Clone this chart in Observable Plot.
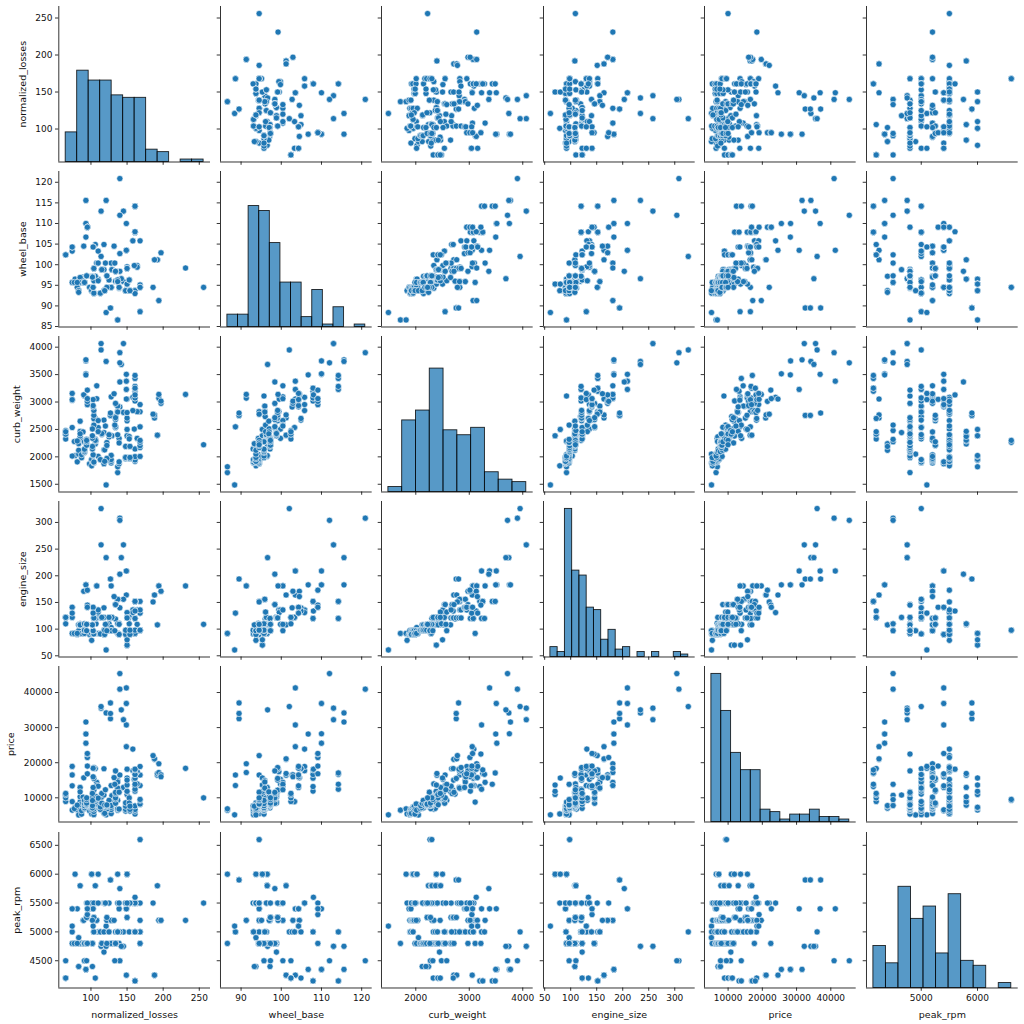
<!DOCTYPE html>
<html>
<head>
<meta charset="utf-8">
<script src="https://cdn.jsdelivr.net/npm/d3@7"></script>
<script src="https://cdn.jsdelivr.net/npm/@observablehq/plot@0.6"></script>
<style>
  body { margin: 0; background: #fff; }
  #chart { position: relative; width: 1024px; height: 1024px; background: #fff; }
  #chart svg { position: absolute; overflow: visible; max-width: none; }
</style>
</head>
<body>
<div id="chart"></div>
<script>
const variables = ["normalized_losses", "wheel_base", "curb_weight", "engine_size", "price", "peak_rpm"];

const normalized_losses = [
168,168,168,164,164,160,158,168,158,150,
192,192,188,188,149,149,149,149,121,98,
81,118,118,118,148,148,148,148,110,145,
137,137,101,101,101,110,78,106,106,85,
85,85,107,139,139,139,134,145,114,114,
104,104,104,113,113,150,150,150,150,129,
115,129,115,118,115,118,106,93,93,93,
93,121,142,140,140,140,161,161,161,161,
153,153,137,137,137,125,125,125,137,128,
128,128,122,103,128,128,122,103,168,106,
106,128,108,108,194,194,231,161,161,161,
161,161,161,161,161,161,161,161,119,119,
154,154,154,74,137,186,127,127,127,140,
104,110,150,104,150,104,150,104,83,83,
83,102,102,102,102,102,89,89,85,85,
87,87,74,77,81,91,91,91,91,91,
91,91,91,168,168,168,168,134,134,134,
134,134,134,65,65,65,65,65,197,197,
90,132,122,122,94,94,94,94,94,139,
256,110,133,120,103,74,103,74,103,74,
95,95,95,95,95];

const wheel_base = [
88.6,88.6,94.5,99.8,99.4,99.8,105.8,105.8,105.8,99.5,
101.2,101.2,101.2,101.2,103.5,103.5,103.5,110,88.4,94.5,
94.5,93.7,93.7,93.7,93.7,93.7,93.7,93.7,103.3,95.9,
86.6,86.6,93.7,93.7,93.7,96.5,96.5,96.5,96.5,96.5,
96.5,96.5,96.5,94.3,94.5,94.5,96,113,113,102,
93.1,93.1,93.1,93.1,93.1,95.3,95.3,95.3,95.3,98.8,
98.8,98.8,98.8,98.8,98.8,104.9,104.9,110,110,106.7,
115.6,115.6,96.6,120.9,112,102.7,93.7,93.7,93.7,93,
96.3,96.3,95.9,95.9,95.9,96.3,96.3,96.3,96.3,94.5,
94.5,94.5,94.5,94.5,94.5,94.5,94.5,94.5,95.1,97.2,
97.2,100.4,100.4,100.4,91.3,91.3,99.2,107.9,107.9,114.2,
114.2,107.9,107.9,114.2,114.2,107.9,107.9,108,93.7,93.7,
93.7,93.7,93.7,103.3,95.9,94.5,89.5,89.5,89.5,98.4,
96.1,96.1,99.1,99.1,99.1,99.1,99.1,99.1,93.7,93.7,
93.3,97.2,97.2,97.2,97,97,97,97,96.9,96.9,
95.7,95.7,95.7,95.7,95.7,95.7,95.7,95.7,95.7,95.7,
95.7,95.7,95.7,94.5,94.5,94.5,94.5,98.4,98.4,98.4,
98.4,98.4,98.4,102.4,102.4,102.4,102.4,102.4,102.9,102.9,
104.5,104.5,97.3,97.3,97.3,97.3,97.3,97.3,97.3,94.5,
94.5,100.4,100.4,100.4,104.3,104.3,104.3,104.3,104.3,104.3,
109.1,109.1,109.1,109.1,109.1];

const curb_weight = [
2548,2548,2823,2337,2824,2507,2844,2954,3086,3053,
2395,2395,2710,2765,3055,3230,3380,3505,1488,1874,
1909,1876,1876,2128,1967,1989,1989,2191,2535,2811,
1713,1819,1837,1940,1956,2010,2024,2236,2289,2304,
2372,2465,2293,2337,1874,1909,2734,4066,4066,3950,
1890,1900,1905,1945,1950,2380,2380,2385,2500,2385,
2410,2385,2410,2443,2425,2670,2700,3515,3750,3495,
3770,3740,3685,3900,3715,2910,1918,1944,2004,2145,
2370,2328,2833,2921,2926,2365,2405,2403,2403,1889,
2017,1918,1938,2024,1951,2028,1971,2037,2008,2324,
2302,3095,3296,3060,3071,3139,3139,3020,3197,3230,
3430,3075,3252,3285,3485,3075,3252,3130,1918,2128,
1967,1989,2191,2535,2818,2778,2756,2756,2800,3366,
2579,2460,2658,2695,2707,2758,2808,2847,2050,2120,
2240,2145,2190,2340,2385,2510,2290,2455,2420,2650,
1985,2040,2015,2280,2290,3110,2081,2109,2275,2275,
2094,2122,2140,2169,2204,2265,2300,2540,2536,2551,
2679,2714,2975,2326,2480,2414,2414,2458,2976,3016,
3131,3151,2261,2209,2264,2212,2275,2319,2300,2254,
2221,2661,2579,2563,2912,3034,2935,3042,3045,3157,
2952,3049,3012,3217,3062];

const engine_size = [
130,130,152,109,136,136,136,136,131,131,
108,108,164,164,164,209,209,209,61,90,
90,90,90,98,90,90,90,98,122,156,
92,92,79,92,92,92,92,110,110,110,
110,110,110,111,90,90,119,258,258,326,
91,91,91,91,91,70,70,70,80,122,
122,122,122,122,122,140,134,183,183,183,
183,234,234,308,304,140,92,92,92,98,
110,122,156,156,156,122,122,110,110,97,
103,97,97,97,97,97,97,97,97,120,
120,181,181,181,181,181,181,120,152,120,
152,120,152,120,152,120,152,134,90,98,
90,90,98,122,156,151,194,194,194,203,
132,132,121,121,121,121,121,121,97,108,
108,108,108,108,108,108,108,108,108,108,
92,92,92,92,92,92,98,98,110,110,
98,98,98,98,98,98,98,146,146,146,
146,146,146,122,110,122,122,122,171,171,
171,161,97,109,97,109,109,97,109,109,
109,136,97,109,141,141,141,141,130,130,
141,141,173,145,141];

const price = [
13495,16500,16500,13950,17450,15250,17710,18920,23875,null,
16430,16925,20970,21105,24565,30760,41315,36880,5151,6295,
6575,5572,6377,7957,6229,6692,7609,8558,8921,12964,
6479,6855,5399,6529,7129,7295,7295,7895,9095,8845,
10295,12945,10345,6785,null,null,11048,32250,35550,36000,
5195,6095,6795,6695,7395,10945,11845,13645,15645,8845,
8495,10595,10245,10795,11245,18280,18344,25552,28248,28176,
31600,34184,35056,40960,45400,16503,5389,6189,6669,7689,
9959,8499,12629,14869,14489,6989,8189,9279,9279,5499,
7099,6649,6849,7349,7299,7799,7499,7999,8249,8949,
9549,13499,14399,13499,17199,19699,18399,11900,13200,12440,
13860,15580,16900,16695,17075,16630,17950,18150,5572,7957,
6229,6692,7609,8921,12764,22018,32528,34028,37028,null,
9295,9895,11850,12170,15040,15510,18150,18620,5118,7053,
7603,7126,7775,9960,9233,11259,7463,10198,8013,11694,
5348,6338,6488,6918,7898,8778,6938,7198,7898,7788,
7738,8358,9258,8058,8238,9298,9538,8449,9639,9989,
11199,11549,17669,8948,10698,9988,10898,11248,16558,15998,
15690,15750,7775,7975,7995,8195,8495,9495,9995,11595,
9980,13295,13845,12290,12940,13415,15985,16515,18420,18950,
16845,19045,21485,22470,22625];

const peak_rpm = [
5000,5000,5000,5500,5500,5500,5500,5500,5500,5500,
5800,5800,4250,4250,4250,5400,5400,5400,5100,5400,
5400,5500,5500,5500,5500,5500,5500,5500,5000,5000,
4800,6000,5500,6000,6000,6000,6000,5800,5800,5800,
5800,5800,5500,4800,5400,5400,5000,4750,4750,5000,
5000,5000,5000,5000,5000,6000,6000,6000,6000,4800,
4800,4800,4800,4650,4800,5000,4200,4350,4350,4350,
4350,4750,4750,4500,4500,5000,5500,5500,5500,5500,
5500,5000,5000,5000,5000,5000,5000,5500,5500,5200,
4800,5200,5200,5200,5200,5200,5200,5200,5200,5200,
5200,5200,5200,5200,5200,5200,5200,5000,4150,5000,
4150,5000,4150,5000,4150,5000,4150,5600,5500,5500,
5500,5500,5500,5000,5000,5500,5900,5900,5900,5750,
null,null,5250,5250,5250,5250,5500,5500,4900,4400,
4400,4800,4400,5200,4800,4800,4800,5200,4800,4800,
4800,4800,4800,4800,4800,4800,4800,4800,4500,4500,
4800,4800,4800,4800,4800,6600,6600,4800,4800,4800,
4800,4800,4800,4200,4500,4200,4200,4200,5200,5200,
5200,5200,4800,5250,4800,5250,5250,4500,5500,5500,
5500,5500,4500,5500,5400,5400,5400,5400,5100,5100,
5400,5300,5500,4800,5400];

// tick values
const nlTicks = [100, 150, 200, 250];
const wbTicksY = [85, 90, 95, 100, 105, 110, 115, 120];
const wbTicksX = [90, 100, 110, 120];
const curbTicksY = [1500, 2000, 2500, 3000, 3500, 4000];
const curbTicksX = [2000, 3000, 4000];
const engineTicks = [50, 100, 150, 200, 250, 300];
const priceTicks = [10000, 20000, 30000, 40000];
const rpmTicksY = [4500, 5000, 5500, 6000, 6500];
const rpmTicksX = [5000, 6000];
// number of histogram bins on the diagonal
const binCounts = [12, 13, 10, 19, 14, 11];

const columns = [normalized_losses, wheel_base, curb_weight, engine_size, price, peak_rpm];
const ticksY = [nlTicks, wbTicksY, curbTicksY, engineTicks, priceTicks, rpmTicksY];
const ticksX = [nlTicks, wbTicksX, curbTicksX, engineTicks, priceTicks, rpmTicksX];

// layout
const PL = 58.3, PT = 6, PW = 151.7, PH = 155.5, DX = 161.5, DY = 165.1;
const BLUE = "#1f77b4";
const FONT = "DejaVu Sans";
const fmt = d => String(d);

function paddedDomain(arr) {
  const v = arr.filter(d => d != null);
  const [a, b] = d3.extent(v);
  const p = (b - a) * 0.05;
  return [a - p, b + p];
}
const domains = columns.map(paddedDomain);

const histBins = columns.map((arr, k) => {
  const v = arr.filter(d => d != null);
  const [a, b] = d3.extent(v);
  const n = binCounts[k];
  const th = d3.range(1, n).map(i => a + (b - a) * i / n);
  return d3.bin().domain([a, b]).thresholds(th)(v);
});
const maxCount = d3.max(histBins, bins => d3.max(bins, b => b.length));

const chart = document.getElementById("chart");
const N = normalized_losses.length;
const index = d3.range(N);

function place(svg, left, top) {
  svg.style.position = "absolute";
  svg.style.left = left + "px";
  svg.style.top = top + "px";
  chart.appendChild(svg);
}

for (let i = 0; i < 6; i++) {
  for (let j = 0; j < 6; j++) {
    const ml = j === 0 ? PL : 6;
    const mb = i === 5 ? 38 : 6;
    const mt = 2, mr = 2;
    const left = PL + j * DX - ml;
    const top = PT + i * DY - mt;
    const W = ml + PW + mr, H = mt + PH + mb;
    const xd = domains[j], yd = domains[i];
    const style = {fontFamily: FONT, fontSize: "9px", color: "#000", background: "transparent", overflow: "visible"};

    if (i === j) {
      const bars = Plot.plot({
        width: W, height: H, marginLeft: ml, marginRight: mr, marginTop: mt, marginBottom: mb,
        style,
        x: {domain: xd, axis: null},
        y: {domain: [0, maxCount * 1.05], axis: null},
        marks: [
          Plot.rect(histBins[i], {
            x1: d => d.x0, x2: d => d.x1, y1: 0, y2: d => d.length,
            fill: BLUE, fillOpacity: 0.75, stroke: "#000", strokeOpacity: 0.85, strokeWidth: 0.9, inset: 0
          })
        ]
      });
      place(bars, left, top);
    }

    const marks = [];
    if (i !== j) {
      const xs = columns[j], ys = columns[i];
      const idx = index.filter(k => xs[k] != null && ys[k] != null);
      marks.push(Plot.dot(idx, {
        x: k => xs[k], y: k => ys[k], r: 3.1,
        fill: BLUE, stroke: "#fff", strokeWidth: 0.6
      }));
    }
    marks.push(Plot.ruleX([xd[0]], {stroke: "#000", strokeWidth: 0.8}));
    marks.push(Plot.ruleY([yd[0]], {stroke: "#000", strokeWidth: 0.8}));
    marks.push(Plot.axisX({
      ticks: ticksX[j], tickSize: 3.3, tickPadding: 3, anchor: "bottom",
      tickFormat: i === 5 ? fmt : () => "", label: null,
      stroke: "#000", strokeWidth: 0.8, fill: "#111", fontSize: 9
    }));
    marks.push(Plot.axisY({
      ticks: ticksY[i], tickSize: 3.3, tickPadding: 3, anchor: "left",
      tickFormat: j === 0 ? fmt : () => "", label: null,
      stroke: "#000", strokeWidth: 0.8, fill: "#111", fontSize: 9
    }));
    if (j === 0) {
      const maxLen = d3.max(ticksY[i], t => fmt(t).length);
      const labelX = 51.3 - maxLen * 5.72 - 12;
      marks.push(Plot.text([variables[i]], {
        text: d => d, frameAnchor: "left", textAnchor: "middle", lineAnchor: "middle",
        rotate: -90, dx: labelX - PL, fontSize: 9.5, fill: "#111"
      }));
    }
    if (i === 5) {
      marks.push(Plot.text([variables[j]], {
        text: d => d, frameAnchor: "bottom", textAnchor: "middle", lineAnchor: "middle",
        dy: 27, fontSize: 9.5, fill: "#111"
      }));
    }

    const svg = Plot.plot({
      width: W, height: H, marginLeft: ml, marginRight: mr, marginTop: mt, marginBottom: mb,
      style,
      x: {domain: xd},
      y: {domain: yd},
      marks
    });
    place(svg, left, top);
  }
}
</script>
</body>
</html>
